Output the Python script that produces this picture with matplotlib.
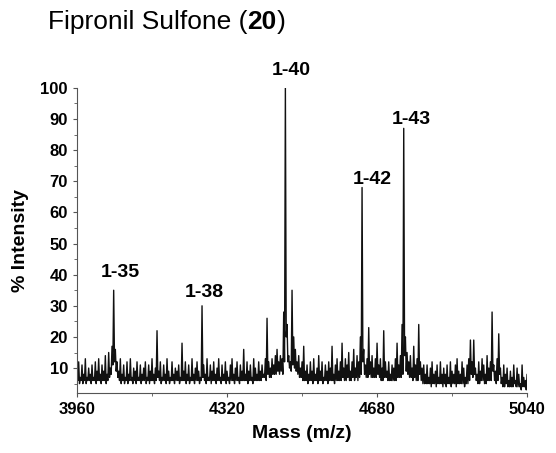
import numpy as np
import matplotlib
matplotlib.use('Agg')
from matplotlib import pyplot as plt

plt.rcParams['font.family'] = ['Liberation Sans', 'DejaVu Sans']

# spectrum in 4 m/z bins from 3960 to 5040:
# top of the trace in each bin, and bottom of the noise band in each bin
mass = np.arange(3960, 5041, 4)
intensity_top = [
    9, 12, 7, 11, 8, 13, 7, 10, 8, 11,
    7, 12, 9, 13, 8, 11, 9, 14, 8, 15,
    10, 17, 35, 16, 12, 9, 13, 8, 11, 7,
    12, 8, 13, 7, 10, 9, 12, 7, 11, 8,
    10, 12, 7, 11, 9, 13, 8, 10, 22, 9,
    12, 7, 11, 8, 13, 9, 7, 12, 8, 10,
    9, 11, 7, 18, 9, 12, 8, 11, 7, 13,
    8, 10, 12, 9, 7, 30, 11, 8, 13, 7,
    11, 9, 12, 8, 10, 13, 7, 11, 8, 12,
    9, 7, 11, 13, 8, 10, 12, 7, 11, 9,
    16, 8, 12, 9, 11, 7, 13, 10, 8, 12,
    9, 11, 8, 13, 26, 12, 10, 13, 11, 14,
    16, 12, 14, 13, 28, 100, 24, 14, 12, 35,
    20, 16, 12, 14, 10, 12, 17, 9, 11, 8,
    12, 9, 13, 8, 10, 14, 9, 12, 7, 11,
    9, 12, 10, 17, 8, 11, 13, 9, 12, 18,
    10, 13, 11, 15, 9, 12, 16, 10, 14, 12,
    20, 68, 16, 11, 13, 23, 12, 14, 10, 13,
    18, 11, 13, 10, 22, 12, 9, 12, 8, 11,
    10, 13, 18, 11, 14, 24, 87, 20, 15, 12,
    14, 10, 17, 11, 13, 24, 12, 10, 11, 8,
    11, 7, 10, 12, 8, 9, 11, 7, 12, 8,
    10, 8, 11, 7, 12, 9, 8, 11, 13, 9,
    8, 12, 10, 7, 11, 13, 19, 12, 19, 10,
    8, 12, 9, 13, 11, 8, 14, 10, 12, 28,
    11, 9, 13, 21, 10, 7, 11, 8, 10, 6,
    9, 7, 11, 6, 10, 8, 5, 11, 7, 6,
    8,
]
intensity_low = [
    6, 5, 6, 5, 6, 5, 6, 6, 5, 6,
    6, 5, 6, 6, 5, 6, 6, 5, 6, 7,
    8, 11, 12, 9, 7, 6, 5, 6, 5, 6,
    5, 6, 6, 5, 6, 5, 6, 6, 5, 6,
    6, 5, 6, 5, 6, 6, 5, 6, 7, 6,
    5, 6, 6, 5, 6, 5, 6, 6, 5, 6,
    6, 5, 6, 6, 6, 5, 6, 5, 6, 6,
    5, 6, 6, 5, 6, 7, 6, 5, 6, 6,
    5, 6, 6, 5, 6, 6, 5, 6, 6, 5,
    6, 5, 6, 6, 5, 6, 6, 5, 6, 6,
    6, 6, 5, 6, 6, 5, 6, 6, 6, 6,
    6, 7, 7, 6, 8, 7, 7, 8, 8, 8,
    9, 8, 9, 8, 12, 20, 12, 10, 9, 11,
    10, 9, 8, 7, 7, 6, 6, 6, 5, 6,
    6, 5, 6, 6, 5, 6, 6, 5, 6, 6,
    5, 6, 6, 6, 5, 6, 6, 6, 6, 7,
    6, 6, 7, 6, 6, 7, 6, 7, 6, 7,
    8, 12, 8, 7, 7, 8, 7, 7, 7, 7,
    8, 7, 6, 6, 7, 7, 6, 6, 6, 6,
    6, 6, 7, 7, 7, 8, 14, 9, 8, 7,
    7, 6, 7, 6, 6, 8, 6, 5, 5, 5,
    5, 5, 4, 5, 5, 4, 5, 5, 5, 4,
    5, 4, 5, 5, 4, 5, 5, 4, 5, 5,
    5, 5, 4, 5, 5, 6, 8, 7, 8, 6,
    5, 5, 6, 6, 5, 5, 6, 6, 6, 9,
    6, 5, 6, 8, 5, 4, 4, 5, 4, 4,
    4, 4, 5, 4, 4, 4, 3, 4, 4, 3,
    4,
]

peak_labels = ['1-35', '1-38', '1-40', '1-42', '1-43']
label_mass = [4063, 4265, 4474, 4668, 4762]
label_int = [38, 31.5, 102.8, 68, 87]

# zigzag: top of each bin, then bottom of the band half a bin later
xs = np.empty(2 * len(mass))
ys = np.empty(2 * len(mass))
xs[0::2] = mass
xs[1::2] = mass + 2
ys[0::2] = intensity_top
ys[1::2] = intensity_low

fig = plt.figure(figsize=(5.56, 4.53), dpi=100)
ax = fig.add_axes([0.1385, 0.1325, 0.8095, 0.6735])

ax.plot(xs, ys, color='#111111', lw=1.0)

for lab, m, v in zip(peak_labels, label_mass, label_int):
    ax.text(m, v, lab, ha='center', va='bottom', fontsize=14, fontweight='bold', clip_on=False)

ax.set_xlim(3960, 5040)
ax.set_ylim(2, 100)
ax.set_xticks([3960, 4320, 4680, 5040])
ax.set_xticks([4140, 4500, 4860], minor=True)
ax.set_yticks(np.arange(10, 101, 10))
ax.set_yticks(np.arange(5, 101, 5), minor=True)
ax.tick_params(axis='both', which='major', labelsize=12, length=3, width=0.8, color='#555555')
ax.tick_params(axis='both', which='minor', length=2, width=0.6, color='#555555')
for t in ax.get_xticklabels() + ax.get_yticklabels():
    t.set_fontweight('bold')

for s in ['top', 'right']:
    ax.spines[s].set_visible(False)
for s in ['left', 'bottom']:
    ax.spines[s].set_color('#555555')
    ax.spines[s].set_linewidth(0.8)

ax.set_xlabel('Mass (m/z)', fontsize=14, fontweight='bold', labelpad=6)
ax.set_ylabel('% Intensity', fontsize=14, fontweight='bold', labelpad=8)

# title with bold compound number
fig.canvas.draw()
r = fig.canvas.get_renderer()
ty = 1 - 29 / 453
t1 = fig.text(48 / 556, ty, 'Fipronil Sulfone (', fontsize=19, va='baseline')
bb = t1.get_window_extent(r)
t2 = fig.text(bb.x1 / fig.bbox.width, ty, '20', fontsize=19, fontweight='bold', va='baseline')
bb2 = t2.get_window_extent(r)
fig.text(bb2.x1 / fig.bbox.width, ty, ')', fontsize=19, va='baseline')

fig.savefig('out.png', dpi=100)
